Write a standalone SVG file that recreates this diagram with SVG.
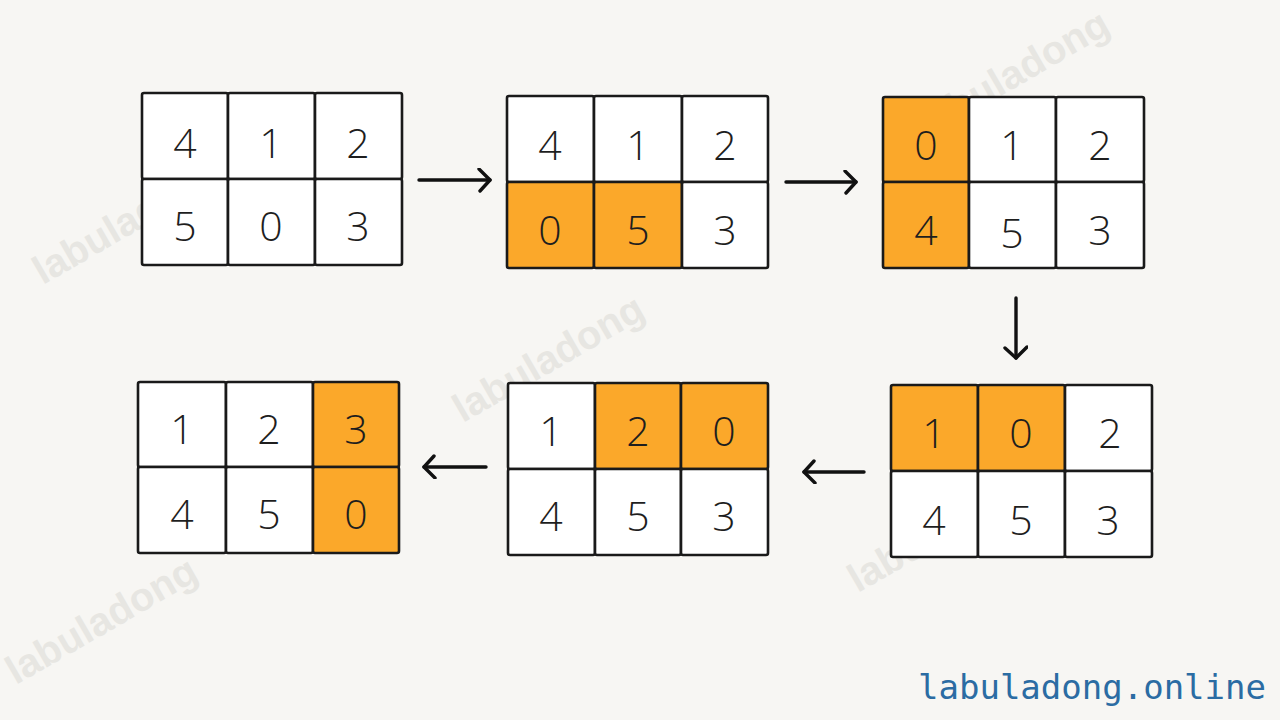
<svg xmlns="http://www.w3.org/2000/svg" width="1280" height="720" viewBox="0 0 1280 720">
<defs>
<style>
.c{fill:#ffffff;stroke:#1a1a1a;stroke-width:2.6;}
.o{fill:#fba82a;stroke:#1a1a1a;stroke-width:2.6;}
.n{font-family:"Open Sans","DejaVu Sans",sans-serif;font-size:41px;font-weight:300;fill:#1e1e1e;text-anchor:middle;}
.wm{font-family:"Liberation Sans","DejaVu Sans",sans-serif;font-weight:bold;font-size:40px;fill:#e7e6e2;}
.ar{fill:none;stroke:#111;stroke-width:3.4;stroke-linecap:round;stroke-linejoin:round;}
.ft{font-family:"DejaVu Sans Mono","Liberation Mono",monospace;font-size:34px;fill:#2b6ca3;}
</style>
<marker id="ah" markerUnits="userSpaceOnUse" markerWidth="20" markerHeight="30" refX="13" refY="12" orient="auto" viewBox="0 0 20 30">
<path d="M2,1 L13,12 L3,23" fill="none" stroke="#111" stroke-width="3.4" stroke-linecap="round" stroke-linejoin="round"/>
</marker>
</defs>
<rect width="1280" height="720" fill="#f7f6f3"/>
<g id="watermarks">
<text class="wm" transform="translate(135,232) rotate(-30)" text-anchor="middle">labuladong</text>
<text class="wm" transform="translate(1020,85) rotate(-30)" text-anchor="middle">labuladong</text>
<text class="wm" transform="translate(555,370) rotate(-30)" text-anchor="middle">labuladong</text>
<text class="wm" transform="translate(950,540) rotate(-30)" text-anchor="middle">labuladong</text>
<text class="wm" transform="translate(108,632) rotate(-30)" text-anchor="middle">labuladong</text>
</g>
<g id="state1">
<rect class="c" x="142" y="93" width="86" height="86" rx="2"/>
<rect class="c" x="228" y="93" width="87" height="86" rx="2"/>
<rect class="c" x="315" y="93" width="87" height="86" rx="2"/>
<rect class="c" x="142" y="179" width="86" height="86" rx="2"/>
<rect class="c" x="228" y="179" width="87" height="86" rx="2"/>
<rect class="c" x="315" y="179" width="87" height="86" rx="2"/>
<text class="n" x="185" y="158">4</text><text class="n" x="271" y="158">1</text><text class="n" x="358" y="158">2</text>
<text class="n" x="185" y="241">5</text><text class="n" x="271" y="241">0</text><text class="n" x="358" y="241">3</text>
</g>
<g id="state2">
<rect class="c" x="507" y="96" width="87" height="86" rx="2"/>
<rect class="c" x="594" y="96" width="88" height="86" rx="2"/>
<rect class="c" x="682" y="96" width="86" height="86" rx="2"/>
<rect class="o" x="507" y="182" width="87" height="86" rx="2"/>
<rect class="o" x="594" y="182" width="88" height="86" rx="2"/>
<rect class="c" x="682" y="182" width="86" height="86" rx="2"/>
<text class="n" x="550" y="160">4</text><text class="n" x="638" y="160">1</text><text class="n" x="725" y="160">2</text>
<text class="n" x="550" y="245">0</text><text class="n" x="638" y="245">5</text><text class="n" x="725" y="245">3</text>
</g>
<g id="state3">
<rect class="o" x="883" y="97" width="86" height="85" rx="2"/>
<rect class="c" x="969" y="97" width="87" height="85" rx="2"/>
<rect class="c" x="1056" y="97" width="88" height="85" rx="2"/>
<rect class="o" x="883" y="182" width="86" height="86" rx="2"/>
<rect class="c" x="969" y="182" width="87" height="86" rx="2"/>
<rect class="c" x="1056" y="182" width="88" height="86" rx="2"/>
<text class="n" x="926" y="160">0</text><text class="n" x="1012" y="160">1</text><text class="n" x="1100" y="160">2</text>
<text class="n" x="926" y="245">4</text><text class="n" x="1012" y="248">5</text><text class="n" x="1100" y="245">3</text>
</g>
<g id="state4">
<rect class="o" x="891" y="385" width="87" height="86" rx="2"/>
<rect class="o" x="978" y="385" width="87" height="86" rx="2"/>
<rect class="c" x="1065" y="385" width="87" height="86" rx="2"/>
<rect class="c" x="891" y="471" width="87" height="86" rx="2"/>
<rect class="c" x="978" y="471" width="87" height="86" rx="2"/>
<rect class="c" x="1065" y="471" width="87" height="86" rx="2"/>
<text class="n" x="934" y="448">1</text><text class="n" x="1021" y="448">0</text><text class="n" x="1110" y="448">2</text>
<text class="n" x="934" y="535">4</text><text class="n" x="1021" y="535">5</text><text class="n" x="1108" y="535">3</text>
</g>
<g id="state5">
<rect class="c" x="508" y="383" width="87" height="86" rx="2"/>
<rect class="o" x="595" y="383" width="86" height="86" rx="2"/>
<rect class="o" x="681" y="383" width="87" height="86" rx="2"/>
<rect class="c" x="508" y="469" width="87" height="86" rx="2"/>
<rect class="c" x="595" y="469" width="86" height="86" rx="2"/>
<rect class="c" x="681" y="469" width="87" height="86" rx="2"/>
<text class="n" x="551" y="446">1</text><text class="n" x="638" y="446">2</text><text class="n" x="724" y="446">0</text>
<text class="n" x="551" y="531">4</text><text class="n" x="638" y="531">5</text><text class="n" x="724" y="531">3</text>
</g>
<g id="state6">
<rect class="c" x="138" y="382" width="88" height="85" rx="2"/>
<rect class="c" x="226" y="382" width="87" height="85" rx="2"/>
<rect class="o" x="313" y="382" width="86" height="85" rx="2"/>
<rect class="c" x="138" y="467" width="88" height="86" rx="2"/>
<rect class="c" x="226" y="467" width="87" height="86" rx="2"/>
<rect class="o" x="313" y="467" width="86" height="86" rx="2"/>
<text class="n" x="182" y="444">1</text><text class="n" x="269" y="444">2</text><text class="n" x="356" y="444">3</text>
<text class="n" x="182" y="529">4</text><text class="n" x="269" y="529">5</text><text class="n" x="356" y="529">0</text>
</g>
<g id="connectors">
<path class="ar" d="M419,180 L490,180" marker-end="url(#ah)"/>
<path class="ar" d="M786,182 L856,182" marker-end="url(#ah)"/>
<path class="ar" d="M1016,298 L1016,358" marker-end="url(#ah)"/>
<path class="ar" d="M864,472 L804,472" marker-end="url(#ah)"/>
<path class="ar" d="M486,467 L424,467" marker-end="url(#ah)"/>
</g>
<text class="ft" x="918" y="699">labuladong.online</text>
</svg>
